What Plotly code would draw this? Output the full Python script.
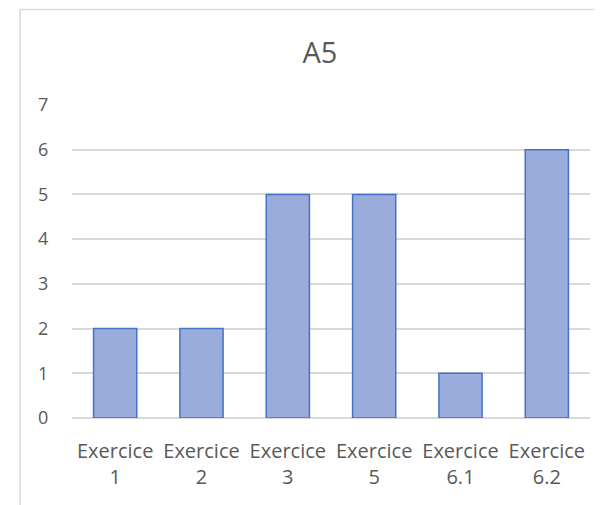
"""Bar chart A5: count per exercise."""

import plotly.graph_objects as go

exercises = ["Exercice<br>1", "Exercice<br>2", "Exercice<br>3",
             "Exercice<br>5", "Exercice<br>6.1", "Exercice<br>6.2"]
counts = [2, 2, 5, 5, 1, 6]
y_ticks = [0, 1, 2, 3, 4, 5, 6, 7]

TEXT = "#595959"
GRID = "#D9D9D9"
FONT = "Open Sans, Noto Sans, sans-serif"

fig = go.Figure(data=go.Bar(
    x=exercises,
    y=counts,
    marker=dict(color="#99ACDC", line=dict(color="#4472C4", width=1.5)),
    hoverinfo="x+y",
))

# page body keeps its default 8px margin, so the figure is offset by 8px
fig.update_layout(
    width=594,
    height=497,
    paper_bgcolor="white",
    plot_bgcolor="white",
    font=dict(family=FONT, color=TEXT, size=20),
    title=dict(text="A5", x=0.525, xanchor="center", y=0.909, yanchor="middle",
               font=dict(size=29, color=TEXT, family=FONT)),
    bargap=0.5,
    showlegend=False,
    margin=dict(l=64, r=12, t=97, b=87),
    xaxis=dict(
        showgrid=False,
        showline=False,
        zeroline=False,
        ticks="outside",
        ticklen=15,
        tickcolor="rgba(0,0,0,0)",
        tickfont=dict(size=20, color=TEXT),
    ),
    yaxis=dict(
        range=[0, 7],
        tickvals=y_ticks,
        showgrid=True,
        gridcolor=GRID,
        gridwidth=1.5,
        zeroline=True,
        zerolinecolor=GRID,
        zerolinewidth=1.5,
        showline=False,
        ticks="outside",
        ticklen=19,
        tickcolor="rgba(0,0,0,0)",
        tickfont=dict(size=18, color=TEXT),
    ),
    # chart-area frame: only left and top edges are visible in the reference
    shapes=[dict(type="path", xref="paper", yref="paper",
                 path="M -0.1,-0.6 L -0.1,1.305 L 1.2,1.305",
                 line=dict(color=GRID, width=1.5), layer="below")],
)

fig.write_html("out.html")
